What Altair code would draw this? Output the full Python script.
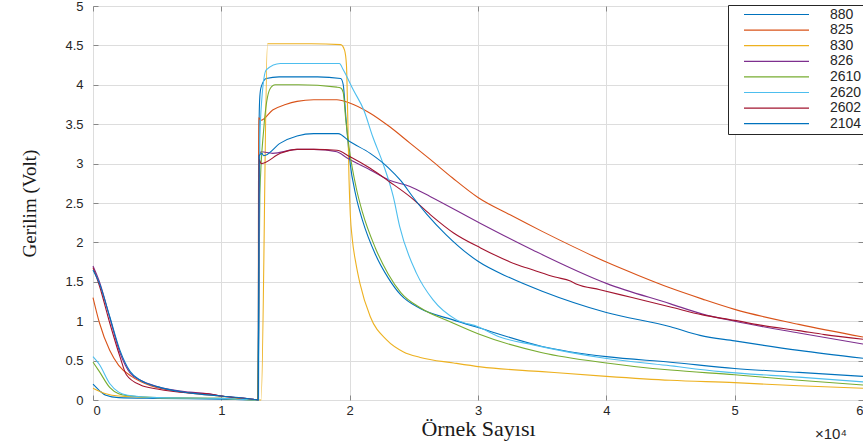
import altair as alt
import pandas as pd

# ---- data (x in samples, y in volts) ----
series_names = ["880", "825", "830", "826", "2610", "2620", "2602", "2104"]
series_colors = ["#0072BD", "#D95319", "#EDB120", "#7E2F8E", "#77AC30", "#4DBEEE", "#A2142F", "#0072BD"]

x_880 = [0, 500, 1000, 2000, 5000, 10000, 12850, 12950, 13000, 13100, 13500, 14500, 16000, 17500, 19300, 19500, 19700, 20000, 20500, 21000, 22000, 23000, 24000, 25500, 28000, 30000, 35000, 40000, 45000, 50000, 55000, 60000]
y_880 = [0.20, 0.12, 0.06, 0.03, 0.02, 0.01, 0.0, 3.6, 3.85, 3.97, 4.08, 4.10, 4.10, 4.10, 4.08, 4.00, 3.60, 3.05, 2.58, 2.28, 1.85, 1.55, 1.33, 1.16, 1.02, 0.92, 0.68, 0.55, 0.48, 0.40, 0.35, 0.30]

x_825 = [0, 500, 1300, 2000, 3000, 4500, 7500, 10000, 12700, 12880, 12900, 13100, 14000, 15000, 15900, 17200, 19000, 20000, 21600, 23100, 24700, 26300, 28000, 30000, 32500, 35000, 37500, 40000, 42500, 45000, 47500, 50000, 55000, 60000]
y_825 = [1.30, 0.98, 0.63, 0.44, 0.30, 0.18, 0.09, 0.05, 0.0, 0.0, 3.58, 3.55, 3.68, 3.75, 3.79, 3.81, 3.81, 3.77, 3.64, 3.47, 3.26, 3.05, 2.82, 2.57, 2.35, 2.14, 1.94, 1.75, 1.58, 1.42, 1.28, 1.15, 0.96, 0.80]

x_830 = [0, 1000, 2000, 5000, 10000, 13100, 13600, 15000, 17000, 19300, 19600, 19750, 19850, 19950, 20050, 20200, 20500, 20800, 21600, 22900, 24200, 25500, 28100, 30200, 35000, 40000, 45000, 50000, 55000, 60000]
y_830 = [0.15, 0.08, 0.05, 0.03, 0.02, 0.0, 4.52, 4.52, 4.52, 4.51, 4.44, 4.25, 3.6, 2.8, 2.35, 2.05, 1.72, 1.48, 1.06, 0.76, 0.61, 0.54, 0.47, 0.42, 0.36, 0.30, 0.25, 0.22, 0.18, 0.15]

x_826 = [0, 500, 1300, 2100, 2900, 3700, 5000, 7500, 9000, 10000, 12500, 12880, 12950, 13100, 14000, 15900, 17200, 19000, 19800, 21600, 23100, 24700, 26300, 30200, 34300, 40000, 45000, 47500, 50000, 55000, 60000]
y_826 = [1.70, 1.50, 1.05, 0.60, 0.34, 0.25, 0.17, 0.10, 0.08, 0.05, 0.01, 0.0, 3.1, 3.15, 3.13, 3.18, 3.18, 3.15, 3.07, 2.92, 2.79, 2.71, 2.58, 2.24, 1.90, 1.48, 1.22, 1.09, 1.00, 0.85, 0.71]

x_2610 = [0, 500, 1300, 2000, 3000, 5000, 10000, 12850, 13000, 13300, 13800, 14200, 16000, 19000, 19300, 19500, 19700, 20000, 20500, 21000, 22000, 23000, 24000, 25500, 28000, 30000, 35000, 40000, 45000, 50000, 55000, 60000]
y_2610 = [0.48, 0.36, 0.16, 0.08, 0.05, 0.03, 0.02, 0.0, 2.6, 3.43, 3.95, 4.0, 4.0, 3.97, 3.96, 3.90, 3.55, 3.15, 2.70, 2.38, 1.93, 1.60, 1.36, 1.17, 0.98, 0.84, 0.60, 0.47, 0.38, 0.32, 0.25, 0.19]

x_2620 = [0, 500, 1300, 2000, 2700, 5000, 10000, 12900, 13000, 13150, 13500, 14600, 16000, 19200, 19500, 20300, 21100, 21800, 22600, 23400, 23900, 25200, 26500, 28300, 30000, 31700, 34300, 39500, 44700, 48900, 55000, 60000]
y_2620 = [0.55, 0.45, 0.21, 0.10, 0.06, 0.03, 0.02, 0.0, 3.3, 3.81, 4.19, 4.27, 4.27, 4.27, 4.19, 3.93, 3.68, 3.34, 3.0, 2.58, 2.20, 1.61, 1.27, 1.02, 0.93, 0.80, 0.70, 0.54, 0.44, 0.36, 0.29, 0.23]

x_2602 = [0, 500, 1300, 2100, 2600, 3700, 5000, 7500, 9000, 10000, 12500, 12880, 12950, 13100, 14600, 15900, 17200, 19000, 20000, 21600, 23100, 24700, 26300, 28100, 30200, 33000, 34300, 36000, 37200, 37700, 39500, 42000, 45000, 47500, 50000, 52000, 55000, 57000, 60000]
y_2602 = [1.68, 1.45, 0.98, 0.55, 0.32, 0.19, 0.14, 0.09, 0.08, 0.05, 0.01, 0.0, 3.05, 3.0, 3.13, 3.18, 3.18, 3.17, 3.09, 2.94, 2.77, 2.58, 2.35, 2.12, 1.93, 1.72, 1.65, 1.56, 1.51, 1.47, 1.40, 1.30, 1.18, 1.08, 1.01, 0.95, 0.88, 0.83, 0.77]

x_2104 = [0, 500, 1300, 2100, 2900, 3700, 5000, 7500, 10000, 12500, 12880, 12950, 13150, 13300, 14600, 15900, 17200, 19100, 20000, 21600, 23000, 24000, 25000, 26000, 27500, 30000, 32500, 35000, 40000, 45000, 47300, 50000, 55000, 60000]
y_2104 = [1.65, 1.48, 1.06, 0.63, 0.36, 0.25, 0.17, 0.09, 0.05, 0.01, 0.0, 3.1, 3.13, 3.10, 3.26, 3.35, 3.38, 3.38, 3.28, 3.13, 2.95, 2.78, 2.56, 2.36, 2.10, 1.76, 1.55, 1.38, 1.11, 0.93, 0.82, 0.75, 0.63, 0.53]

x_ticks = [0, 10000, 20000, 30000, 40000, 50000, 60000]
y_ticks = [0, 0.5, 1, 1.5, 2, 2.5, 3, 3.5, 4, 4.5, 5]

all_x = {"880": x_880, "825": x_825, "830": x_830, "826": x_826,
         "2610": x_2610, "2620": x_2620, "2602": x_2602, "2104": x_2104}
all_y = {"880": y_880, "825": y_825, "830": y_830, "826": y_826,
         "2610": y_2610, "2620": y_2620, "2602": y_2602, "2104": y_2104}

rows = []
for name in series_names:
    for i, (xv, yv) in enumerate(zip(all_x[name], all_y[name])):
        rows.append({"x": xv, "y": yv, "seri": name, "i": i})
df = pd.DataFrame(rows)

AX = "#262626"
xscale = alt.Scale(domain=[0, 60000], nice=False, zero=False)
yscale = alt.Scale(domain=[0, 5], nice=False, zero=False)

lines = alt.Chart(df).mark_line(strokeWidth=1.1, interpolate="monotone").encode(
    x=alt.X("x:Q", scale=xscale,
            axis=alt.Axis(values=x_ticks, labelExpr="datum.value / 10000", orient="bottom",
                          domain=False, tickSize=5, offset=-5, labelPadding=4,
                          labelFont="Liberation Sans", labelFontSize=13, labelColor=AX,
                          title="Örnek Sayısı", titleFont="Liberation Serif", titleFontSize=22,
                          titleFontWeight="normal", titleColor="#1a1a1a", titlePadding=1)),
    y=alt.Y("y:Q", scale=yscale,
            axis=alt.Axis(values=y_ticks, format="~g", orient="left", domain=False, tickSize=5,
                          offset=-5, labelPadding=10,
                          labelFont="Liberation Sans", labelFontSize=13, labelColor=AX,
                          title="Gerilim (Volt)",
                          titleFont="Liberation Serif", titleFontSize=19,
                          titleFontWeight="normal", titleColor="#1a1a1a", titlePadding=25)),
    color=alt.Color("seri:N", scale=alt.Scale(domain=series_names, range=series_colors),
                    legend=alt.Legend(title=None, orient="none", legendX=635, legendY=-1,
                                      strokeColor=AX, fillColor="white", padding=3,
                                      symbolType="stroke", symbolSize=4225, symbolStrokeWidth=1.2,
                                      symbolOffset=12, labelOffset=20, clipHeight=13, rowPadding=0.6,
                                      labelFont="Liberation Sans", labelFontSize=14, labelColor=AX)),
    order="i:Q",
    detail="seri:N",
)

ticks_other = alt.Chart(df).mark_point(opacity=0).encode(
    x=alt.X("x:Q", scale=xscale,
            axis=alt.Axis(values=x_ticks, orient="top", labels=False, domain=False, tickSize=5,
                          offset=-5, title=None)),
    y=alt.Y("y:Q", scale=yscale,
            axis=alt.Axis(values=y_ticks, orient="right", labels=False, domain=False, tickSize=5,
                          offset=-5, title=None)),
)

exp_text = alt.Chart(alt.Data(values=[{"t": "×10⁴"}])).mark_text(
    font="Liberation Sans", fontSize=15, color=AX, align="left", baseline="middle"
).encode(text="t:N", x=alt.value(722), y=alt.value(428))

chart = alt.layer(lines, ticks_other, exp_text).resolve_axis(
    x="independent", y="independent"
).properties(
    width=770, height=394,
    padding={"left": 93, "top": 6, "right": 0, "bottom": 41},
    autosize=alt.AutoSizeParams(type="none"),
).configure_view(stroke=AX, strokeWidth=1).configure_axis(
    grid=False, tickColor=AX, tickWidth=1
).configure(background="white")

chart.save("out.html", embed_options={"renderer": "svg", "actions": False})
